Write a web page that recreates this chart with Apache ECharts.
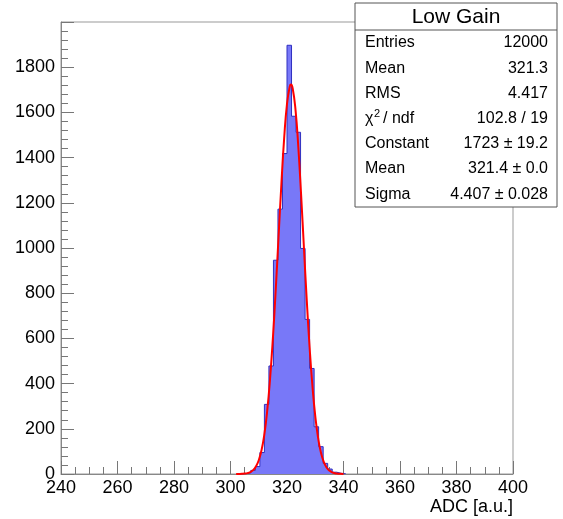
<!DOCTYPE html>
<html><head><meta charset="utf-8">
<script src="https://cdn.jsdelivr.net/npm/echarts/dist/echarts.min.js"></script>
<style>html,body{margin:0;padding:0;background:#fff;}#c{width:563px;height:519px;}</style>
</head><body><div id="c"></div>
<script>
// Histogram bins (edges and counts)
const binEdges = [302.4, 304.0, 305.6, 307.2, 308.8, 310.4, 312.0, 313.6, 315.2, 316.8, 318.4, 320.0, 321.6,
  323.2, 324.8, 326.4, 328.0, 329.6, 331.2, 332.8, 334.4, 336.0, 337.6, 339.2, 340.8];
const binCounts = [0, 2, 5, 16, 33, 95, 308, 478, 946, 1172, 1418, 1897, 1583,
  1512, 998, 684, 467, 209, 121, 47, 22, 8, 3, 1];
// Fit curve
const fitX = [302, 303, 304, 305, 306, 307, 308, 309, 310, 311, 312, 313, 314, 315, 316, 317, 318, 319, 320, 321, 321.4,
  322, 323, 324, 325, 326, 327, 328, 329, 330, 331, 332, 333, 334, 335, 336, 337, 338, 339, 340];
const fitY = [0.1, 0.3, 0.7, 1.7, 3.9, 8.3, 17, 33, 61, 106, 177, 280, 421, 600, 813, 1047, 1280, 1486, 1638, 1716, 1723,
  1707, 1613, 1448, 1234, 999, 768, 561, 390, 257, 161, 95, 54, 29, 15, 7, 3.3, 1.4, 0.6, 0.2];
// Stats box
const statsTitle = 'Low Gain';
const statsLabels = ['Entries', 'Mean', 'RMS', 'CHI2', 'Constant', 'Mean', 'Sigma'];
const statsValues = ['12000', '321.3', '4.417', '102.8 / 19', '1723 \u00b1 19.2', '321.4 \u00b1 0.0', '4.407 \u00b1 0.028'];
const xTitle = 'ADC [a.u.]';

const FONT = '"Liberation Sans", Arial, Helvetica, sans-serif';
const histData = binCounts.map((c, i) => [binEdges[i], c]);
histData.push([binEdges[binEdges.length - 1], 0]);
const fitData = fitX.map((x, i) => [x, fitY[i]]);

const graphics = [];
const bx = 355, by = 3, bw = 202, bh = 204;
graphics.push({type: 'rect', shape: {x: bx, y: by, width: bw, height: bh}, style: {fill: '#fff', stroke: '#555', lineWidth: 1}, z: 100});
graphics.push({type: 'line', shape: {x1: bx, y1: 30, x2: bx + bw, y2: 30}, style: {stroke: '#555', lineWidth: 1}, z: 101});
graphics.push({type: 'text', x: 456, y: 17, style: {text: statsTitle, font: '21px ' + FONT, fill: '#000', textAlign: 'center', textVerticalAlign: 'middle'}, z: 101});
statsLabels.forEach((lab, i) => {
  const y = 43 + i * 25.2;
  if (lab === 'CHI2') {
    graphics.push({type: 'text', x: 365, y: y, style: {text: '\u03c7', font: '16px ' + FONT, fill: '#000', textAlign: 'left', textVerticalAlign: 'middle'}, z: 101});
    graphics.push({type: 'text', x: 374, y: y - 5, style: {text: '2', font: '11px ' + FONT, fill: '#000', textAlign: 'left', textVerticalAlign: 'middle'}, z: 101});
    graphics.push({type: 'text', x: 383, y: y, style: {text: '/ ndf', font: '16px ' + FONT, fill: '#000', textAlign: 'left', textVerticalAlign: 'middle'}, z: 101});
  } else {
    graphics.push({type: 'text', x: 365, y: y, style: {text: lab, font: '16px ' + FONT, fill: '#000', textAlign: 'left', textVerticalAlign: 'middle'}, z: 101});
  }
  graphics.push({type: 'text', x: 548, y: y, style: {text: statsValues[i], font: '16px ' + FONT, fill: '#000', textAlign: 'right', textVerticalAlign: 'middle'}, z: 101});
});
graphics.push({type: 'text', x: 513, y: 507, style: {text: xTitle, font: '18px ' + FONT, fill: '#000', textAlign: 'right', textVerticalAlign: 'middle'}, z: 101});

const chart = echarts.init(document.getElementById('c'), null, {renderer: 'canvas'});
chart.setOption({
  animation: false,
  backgroundColor: '#fff',
  grid: {left: 61, right: 50, top: 22, bottom: 45, show: true, borderColor: '#999', borderWidth: 1, containLabel: false},
  xAxis: {
    type: 'value', min: 240, max: 400, interval: 20,
    axisLine: {show: true, onZero: false, lineStyle: {color: '#888', width: 1}},
    axisTick: {show: true, inside: true, length: 13, lineStyle: {color: '#777'}},
    minorTick: {show: true, splitNumber: 4, length: 7, lineStyle: {color: '#777'}},
    splitLine: {show: false},
    axisLabel: {color: '#000', fontSize: 18, fontFamily: FONT, margin: 5, showMinLabel: true, showMaxLabel: true, formatter: v => String(v)}
  },
  yAxis: {
    type: 'value', min: 0, max: 2000, interval: 200,
    axisLine: {show: true, onZero: false, lineStyle: {color: '#888', width: 1}},
    axisTick: {show: true, inside: true, length: 13, lineStyle: {color: '#777'}},
    minorTick: {show: true, splitNumber: 5, length: 7, lineStyle: {color: '#777'}},
    splitLine: {show: false},
    axisLabel: {color: '#000', fontSize: 18, fontFamily: FONT, margin: 6, showMaxLabel: false, formatter: v => String(v)}
  },
  series: [
    {
      type: 'line', step: 'end', data: histData, symbol: 'none', z: 2,
      lineStyle: {color: '#3030c0', width: 1},
      areaStyle: {color: '#7878f8', opacity: 1, origin: 'start'}
    },
    {
      type: 'line', smooth: true, data: fitData, symbol: 'none', z: 3,
      lineStyle: {color: '#ff0000', width: 2}
    }
  ],
  graphic: graphics
});
</script></body></html>
